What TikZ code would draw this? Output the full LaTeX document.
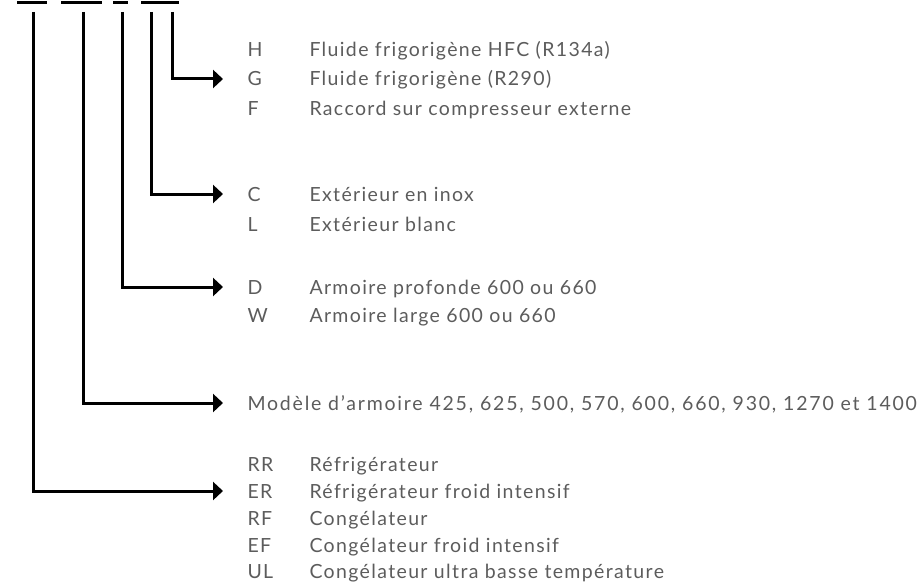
\documentclass[tikz,border=0pt]{standalone}
\usepackage{fontspec}
\setmainfont{Lato}[LetterSpace=7]
\usepackage{xcolor}
\usetikzlibrary{arrows.meta,positioning}

\definecolor{txtgray}{HTML}{5C5C5C}

\begin{document}
\begin{tikzpicture}[x=1pt,y=-1pt,line width=3pt,
    conn/.style={-{Triangle[length=10pt,width=18pt]},shorten >=23pt},
    lbl/.style={anchor=west,inner sep=0pt,text height=14pt,text depth=0pt,
                text=txtgray,font=\fontsize{19.5}{23}\selectfont}]
  \useasboundingbox (0,0) rectangle (917,588);

  % bars on top
  \draw (17,3) -- (47,3)  (61,3) -- (102,3)  (113,3) -- (128,3)  (141,3) -- (179,3);
  \coordinate (p1) at (33,12);
  \coordinate (p2) at (83,12);
  \coordinate (p3) at (122,12);
  \coordinate (p4) at (151,12);
  \coordinate (p5) at (172,12);

  % codes
  \node[lbl] (H)  at (246,50)  {H};
  \node[lbl] (G)  at (246,79)  {G};
  \node[lbl] (F)  at (246,109) {F};
  \node[lbl] (C)  at (246,194) {C};
  \node[lbl] (L)  at (246,224) {L};
  \node[lbl] (D)  at (246,287) {D};
  \node[lbl] (W)  at (246,315) {W};
  \node[lbl] (M)  at (246,403) {\addfontfeature{LetterSpace=9.2}Modèle d’armoire 425, 625, 500, 570, 600, 660, 930, 1270 et 1400};
  \node[lbl] (RR) at (246,464) {RR};
  \node[lbl] (ER) at (246,491) {ER};
  \node[lbl] (RF) at (246,518) {RF};
  \node[lbl] (EF) at (246,545) {EF};
  \node[lbl] (UL) at (246,571) {UL};

  % meanings
  \node[lbl] (Hd)  at (308,50)  {Fluide frigorigène HFC (R134a)};
  \node[lbl] (Gd)  at (308,79)  {Fluide frigorigène (R290)};
  \node[lbl] (Fd)  at (308,109) {Raccord sur compresseur externe};
  \node[lbl] (Cd)  at (308,194) {Extérieur en inox};
  \node[lbl] (Ld)  at (308,224) {Extérieur blanc};
  \node[lbl] (Dd)  at (308,287) {Armoire profonde 600 ou 660};
  \node[lbl] (Wd)  at (308,315) {Armoire large 600 ou 660};
  \node[lbl] (RRd) at (308,464) {Réfrigérateur};
  \node[lbl] (ERd) at (308,491) {Réfrigérateur froid intensif};
  \node[lbl] (RFd) at (308,518) {Congélateur};
  \node[lbl] (EFd) at (308,545) {Congélateur froid intensif};
  \node[lbl] (ULd) at (308,571) {Congélateur ultra basse température};

  \draw[conn] (p5) |- (G);
  \draw[conn] (p4) |- (C);
  \draw[conn] (p3) |- (D);
  \draw[conn] (p2) |- (M);
  \draw[conn] (p1) |- (ER);
\end{tikzpicture}
\end{document}
